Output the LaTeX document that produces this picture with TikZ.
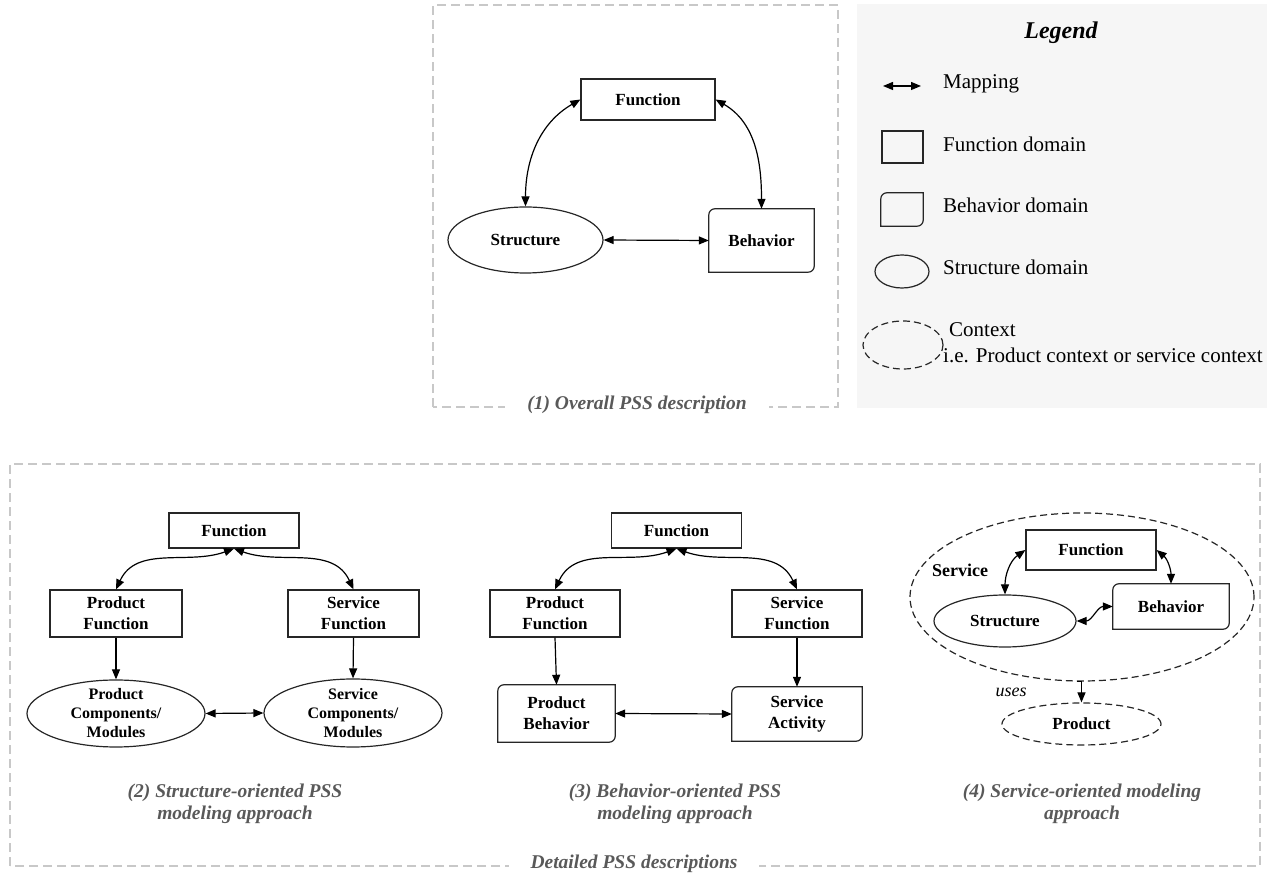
\documentclass[tikz,border=0pt]{standalone}
\usepackage{fontspec}
\setmainfont{Liberation Serif}
\usetikzlibrary{arrows.meta,shapes.geometric}

\definecolor{capgray}{RGB}{89,89,89}
\definecolor{framegray}{RGB}{200,200,200}
\definecolor{legbg}{RGB}{246,246,246}

\newcommand{\pssbold}{\fontsize{17}{21}\selectfont\bfseries}
\newcommand{\pssmod}{\fontsize{16}{19}\selectfont\bfseries}
\newcommand{\psscap}{\fontsize{19.5}{22}\selectfont\bfseries\itshape}
\newcommand{\psslegend}{\fontsize{21}{25}\selectfont}

% behavior domain: rounded top-left and bottom-right corners
\newcommand{\behavframe}[1]{%
  \draw[boxline] (#1.south west) -- ([yshift=-6pt]#1.north west)
    arc[start angle=180,end angle=90,radius=6pt] -- (#1.north east)
    -- ([yshift=6pt]#1.south east)
    arc[start angle=0,end angle=-90,radius=6pt] -- cycle;}

\tikzset{
  boxline/.style={draw=black!85, line width=1.2pt},
  fnbox/.style={boxline, rectangle, align=center, font=\pssbold},
  bhnode/.style={rectangle, align=center, font=\pssbold},
  stnode/.style={boxline, ellipse, inner sep=0pt},
  ctxnode/.style={boxline, ellipse, dash pattern=on 7pt off 4pt, inner sep=0pt},
  modtext/.style={align=center, font=\pssmod, inner sep=0pt},
  map/.style={line width=1.2pt, {Triangle[length=10pt,width=8pt]}-{Triangle[length=10pt,width=8pt]}},
  flow/.style={line width=1.2pt, -{Triangle[length=10pt,width=8pt]}},
  frame/.style={draw=framegray, line width=1.1pt, dash pattern=on 9pt off 5pt},
  caption/.style={font=\psscap, text=capgray, align=center},
  legtext/.style={font=\psslegend, anchor=base west, inner sep=0pt},
}

\begin{document}
\begin{tikzpicture}[x=1pt,y=1pt]
\useasboundingbox (0,0) rectangle (1267,873);

% (1) overall description
\draw[frame] (433,466) rectangle (838,868);
\node[caption, fill=white, inner xsep=22pt] (cap1) at (637,468) {(1) Overall PSS description};

\node[fnbox, minimum width=134, minimum height=41] (fn1) at (648,773.5) {Function};
\node[stnode, font=\pssbold, minimum width=155, minimum height=66] (st1) at (525.5,633) {Structure};
\node[bhnode, minimum width=105, minimum height=63] (bh1) at (761.5,632.5) {Behavior};
\behavframe{bh1}
\draw[map] (fn1.west) to[out=210,in=90] (st1.north);
\draw[map] (fn1.east) to[out=-30,in=90] (bh1.north);
\draw[map] (st1.east) -- (bh1.west);

% legend
\fill[legbg] (857,465) rectangle (1267,869);
\node[font=\fontsize{24}{28}\selectfont\bfseries\itshape, anchor=base] (leghead) at (1061,834) {Legend};
\coordinate (lgma) at (883,787);
\coordinate (lgmb) at (921,787);
\draw[map] (lgma) -- (lgmb);
\node[legtext] (lgmap) at (943,784) {Mapping};
\node[fnbox, minimum width=41, minimum height=32] (lgfn) at (902.5,726) {};
\node[legtext] (lgfnt) at (943,721) {Function domain};
\node[bhnode, minimum width=42, minimum height=33] (lgbh) at (902,663.5) {};
\behavframe{lgbh}
\node[legtext] (lgbht) at (943,660) {Behavior domain};
\node[stnode, minimum width=54, minimum height=33] (lgst) at (902,601.5) {};
\node[legtext] (lgstt) at (943,598) {Structure domain};
\node[ctxnode, minimum width=80, minimum height=48] (lgctx) at (903,528) {};
\node[legtext] (lgctxt) at (949,536) {Context};
\node[legtext] (lgctxd) at (943,510) {i.e. Product context or service context};

% detailed descriptions
\draw[frame] (10,7) rectangle (1260,409);
\node[caption, fill=white, inner xsep=22pt] (cap0) at (634,9) {Detailed PSS descriptions};

% (2) structure-oriented
\node[fnbox, minimum width=130, minimum height=35] (f2) at (234,342.5) {Function};
\node[fnbox, minimum width=132, minimum height=47] (pf2) at (116,259.5) {Product\\Function};
\node[fnbox, minimum width=131, minimum height=47] (sf2) at (353.5,259.5) {Service\\Function};
\node[stnode, minimum width=178, minimum height=67] (pc2) at (116,159.5) {};
\node[modtext] (pc2t) at (pc2) {Product\\Components/\\Modules};
\node[stnode, minimum width=178, minimum height=68] (sc2) at (353,160) {};
\node[modtext] (sc2t) at (sc2) {Service\\Components/\\Modules};
\draw[map] (f2.south) to[out=200,in=65] (pf2.north);
\draw[map] (f2.south) to[out=-20,in=115] (sf2.north);
\draw[flow] (pf2.south) -- (pc2.north);
\draw[flow] (sf2.south) -- (sc2.north);
\draw[map] (pc2.east) -- (sc2.west);
\node[caption] (cap2) at (235,69) {(2) Structure-oriented PSS\\modeling approach};

% (3) behavior-oriented
\node[fnbox, minimum width=130, minimum height=35] (f3) at (676.5,342.5) {Function};
\node[fnbox, minimum width=130, minimum height=47] (pf3) at (555,259.5) {Product\\Function};
\node[fnbox, minimum width=130, minimum height=47] (sf3) at (797,259.5) {Service\\Function};
\node[bhnode, minimum width=117, minimum height=57] (pb3) at (556.5,159.5) {Product\\Behavior};
\behavframe{pb3}
\node[bhnode, minimum width=130, minimum height=54] (sa3) at (797,159) {Service\\Activity};
\behavframe{sa3}
\draw[map] (f3.south) to[out=200,in=65] (pf3.north);
\draw[map] (f3.south) to[out=-20,in=115] (sf3.north);
\draw[flow] (pf3.south) -- (pb3.north);
\draw[flow] (sf3.south) -- (sa3.north);
\draw[map] (pb3.east) -- (sa3.west);
\node[caption] (cap3) at (675,69) {(3) Behavior-oriented PSS\\modeling approach};

% (4) service-oriented
\node[ctxnode, minimum width=344, minimum height=168] (ctx4) at (1082,276) {};
\node[font=\fontsize{18}{22}\selectfont\bfseries] (svc4) at (960,303) {Service};
\node[fnbox, minimum width=130, minimum height=40] (f4) at (1091,323) {Function};
\node[stnode, font=\pssbold, minimum width=142, minimum height=52] (st4) at (1005,252) {Structure};
\node[bhnode, minimum width=116, minimum height=45] (bh4) at (1171,266.5) {Behavior};
\behavframe{bh4}
\draw[map] (f4.west) to[out=215,in=90] (st4.north);
\draw[map] (f4.east) to[out=-40,in=90] (bh4.north);
\draw[map] (st4.east) to[out=0,in=180] (bh4.west);
\node[ctxnode, font=\pssbold, minimum width=159, minimum height=42] (prod4) at (1081.5,149) {Product};
\draw[flow] ([xshift=-5pt]ctx4.south) -| (prod4.north);
\node[font=\fontsize{18}{22}\selectfont\itshape] (uses4) at (1011,181) {uses};
\node[caption] (cap4) at (1082,69) {(4) Service-oriented modeling\\approach};
\end{tikzpicture}
\end{document}
